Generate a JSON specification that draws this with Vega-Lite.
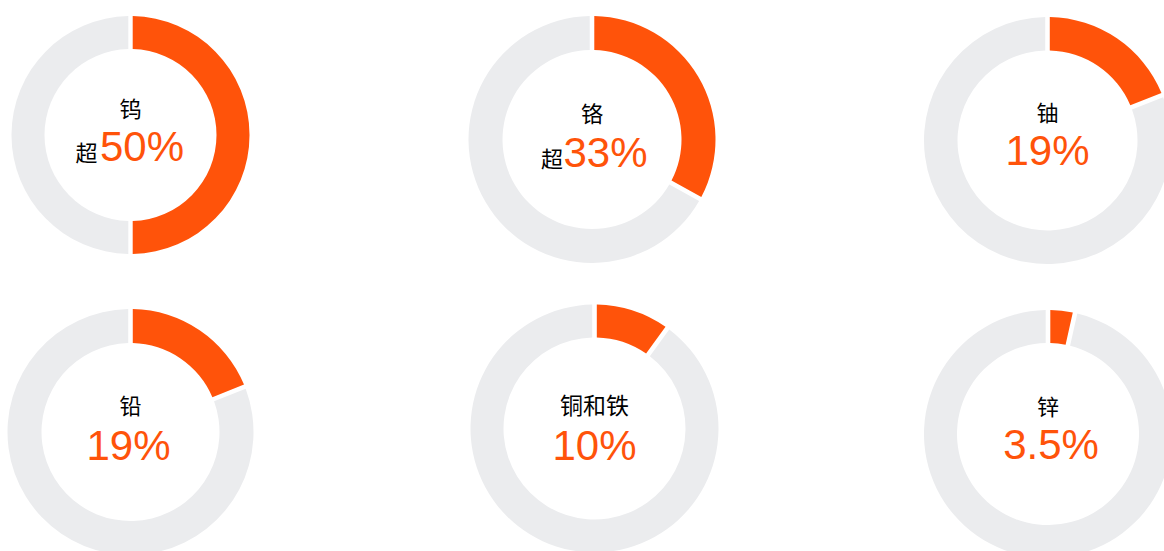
{
  "$schema": "https://vega.github.io/schema/vega-lite/v6.json",
  "padding": 0,
  "background": "#ffffff",
  "config": {"view": {"stroke": null}},
  "data": {"values": [
    {"metal": "钨", "part": "share", "value": 50, "display": "50%", "prefix": "超"},
    {"metal": "钨", "part": "rest", "value": 50},
    {"metal": "铬", "part": "share", "value": 33, "display": "33%", "prefix": "超"},
    {"metal": "铬", "part": "rest", "value": 67},
    {"metal": "铀", "part": "share", "value": 19, "display": "19%"},
    {"metal": "铀", "part": "rest", "value": 81},
    {"metal": "铅", "part": "share", "value": 19, "display": "19%"},
    {"metal": "铅", "part": "rest", "value": 81},
    {"metal": "铜和铁", "part": "share", "value": 10, "display": "10%"},
    {"metal": "铜和铁", "part": "rest", "value": 90},
    {"metal": "锌", "part": "share", "value": 3.5, "display": "3.5%"},
    {"metal": "锌", "part": "rest", "value": 96.5}
  ]},
  "columns": 3,
  "align": "each",
  "bounds": "flush",
  "spacing": {"row": 19, "column": 0},
  "concat": [
    {
      "width": 261, "height": 270,
      "transform": [{"filter": "datum.metal === '钨'"}],
      "layer": [
        {"mark": {"type": "arc", "radius": 119, "innerRadius": 86, "padAngle": 0.03},
         "encoding": {"theta": {"field": "value", "type": "quantitative", "stack": true},
           "color": {"field": "part", "type": "nominal", "scale": {"domain": ["share", "rest"], "range": ["#ff530a", "#ebecee"]}, "legend": null},
           "order": {"field": "part", "sort": "descending"}}},
        {"transform": [{"filter": "datum.part === 'share'"}],
         "mark": {"type": "text", "font": "Noto Sans CJK SC", "fontSize": 22, "color": "#000000", "baseline": "middle", "dy": -25},
         "encoding": {"text": {"field": "metal"}}},
        {"transform": [{"filter": "datum.part === 'share'"}],
         "mark": {"type": "text", "font": "Noto Sans CJK SC", "fontSize": 22, "color": "#000000", "baseline": "alphabetic", "align": "right", "dx": -33, "dy": 26},
         "encoding": {"text": {"field": "prefix"}}},
        {"transform": [{"filter": "datum.part === 'share'"}],
         "mark": {"type": "text", "font": "Liberation Sans", "fontSize": 42, "color": "#ff530a", "baseline": "alphabetic", "align": "left", "dx": -30.5, "dy": 26},
         "encoding": {"text": {"field": "display"}}}
      ]
    },
    {
      "width": 662, "height": 279,
      "transform": [{"filter": "datum.metal === '铬'"}],
      "layer": [
        {"mark": {"type": "arc", "radius": 123.5, "innerRadius": 89.5, "padAngle": 0.03},
         "encoding": {"theta": {"field": "value", "type": "quantitative", "stack": true},
           "color": {"field": "part", "type": "nominal", "scale": {"domain": ["share", "rest"], "range": ["#ff530a", "#ebecee"]}, "legend": null},
           "order": {"field": "part", "sort": "descending"}}},
        {"transform": [{"filter": "datum.part === 'share'"}],
         "mark": {"type": "text", "font": "Noto Sans CJK SC", "fontSize": 22, "color": "#000000", "baseline": "middle", "dy": -24.5},
         "encoding": {"text": {"field": "metal"}}},
        {"transform": [{"filter": "datum.part === 'share'"}],
         "mark": {"type": "text", "font": "Noto Sans CJK SC", "fontSize": 22, "color": "#000000", "baseline": "alphabetic", "align": "right", "dx": -29, "dy": 27.5},
         "encoding": {"text": {"field": "prefix"}}},
        {"transform": [{"filter": "datum.part === 'share'"}],
         "mark": {"type": "text", "font": "Liberation Sans", "fontSize": 42, "color": "#ff530a", "baseline": "alphabetic", "align": "left", "dx": -28.5, "dy": 27.5},
         "encoding": {"text": {"field": "display"}}}
      ]
    },
    {
      "width": 239, "height": 281,
      "transform": [{"filter": "datum.metal === '铀'"}],
      "layer": [
        {"mark": {"type": "arc", "radius": 123.5, "innerRadius": 90, "padAngle": 0.03},
         "encoding": {"theta": {"field": "value", "type": "quantitative", "stack": true},
           "color": {"field": "part", "type": "nominal", "scale": {"domain": ["share", "rest"], "range": ["#ff530a", "#ebecee"]}, "legend": null},
           "order": {"field": "part", "sort": "descending"}}},
        {"transform": [{"filter": "datum.part === 'share'"}],
         "mark": {"type": "text", "font": "Noto Sans CJK SC", "fontSize": 22, "color": "#000000", "baseline": "middle", "dy": -27},
         "encoding": {"text": {"field": "metal"}}},
        {"transform": [{"filter": "datum.part === 'share'"}],
         "mark": {"type": "text", "font": "Liberation Sans", "fontSize": 42, "color": "#ff530a", "baseline": "alphabetic", "align": "center", "dy": 24.5},
         "encoding": {"text": {"field": "display"}}}
      ]
    },
    {
      "width": 261, "height": 264,
      "transform": [{"filter": "datum.metal === '铅'"}],
      "layer": [
        {"mark": {"type": "arc", "radius": 123, "innerRadius": 89, "padAngle": 0.03},
         "encoding": {"theta": {"field": "value", "type": "quantitative", "stack": true},
           "color": {"field": "part", "type": "nominal", "scale": {"domain": ["share", "rest"], "range": ["#ff530a", "#ebecee"]}, "legend": null},
           "order": {"field": "part", "sort": "descending"}}},
        {"transform": [{"filter": "datum.part === 'share'"}],
         "mark": {"type": "text", "font": "Noto Sans CJK SC", "fontSize": 22, "color": "#000000", "baseline": "middle", "dy": -25.5},
         "encoding": {"text": {"field": "metal"}}},
        {"transform": [{"filter": "datum.part === 'share'"}],
         "mark": {"type": "text", "font": "Liberation Sans", "fontSize": 42, "color": "#ff530a", "baseline": "alphabetic", "align": "center", "dx": -2, "dy": 28},
         "encoding": {"text": {"field": "display"}}}
      ]
    },
    {
      "width": 667, "height": 257,
      "transform": [{"filter": "datum.metal === '铜和铁'"}],
      "layer": [
        {"mark": {"type": "arc", "radius": 124, "innerRadius": 91, "padAngle": 0.03},
         "encoding": {"theta": {"field": "value", "type": "quantitative", "stack": true},
           "color": {"field": "part", "type": "nominal", "scale": {"domain": ["share", "rest"], "range": ["#ff530a", "#ebecee"]}, "legend": null},
           "order": {"field": "part", "sort": "descending"}}},
        {"transform": [{"filter": "datum.part === 'share'"}],
         "mark": {"type": "text", "font": "Noto Sans CJK SC", "fontSize": 23, "color": "#000000", "baseline": "middle", "dy": -22},
         "encoding": {"text": {"field": "metal"}}},
        {"transform": [{"filter": "datum.part === 'share'"}],
         "mark": {"type": "text", "font": "Liberation Sans", "fontSize": 42, "color": "#ff530a", "baseline": "alphabetic", "align": "center", "dy": 31},
         "encoding": {"text": {"field": "display"}}}
      ]
    },
    {
      "width": 240, "height": 268,
      "transform": [{"filter": "datum.metal === '锌'"}],
      "layer": [
        {"mark": {"type": "arc", "radius": 124, "innerRadius": 91, "padAngle": 0.03},
         "encoding": {"theta": {"field": "value", "type": "quantitative", "stack": true},
           "color": {"field": "part", "type": "nominal", "scale": {"domain": ["share", "rest"], "range": ["#ff530a", "#ebecee"]}, "legend": null},
           "order": {"field": "part", "sort": "descending"}}},
        {"transform": [{"filter": "datum.part === 'share'"}],
         "mark": {"type": "text", "font": "Noto Sans CJK SC", "fontSize": 22, "color": "#000000", "baseline": "middle", "dy": -26},
         "encoding": {"text": {"field": "metal"}}},
        {"transform": [{"filter": "datum.part === 'share'"}],
         "mark": {"type": "text", "font": "Liberation Sans", "fontSize": 42, "color": "#ff530a", "baseline": "alphabetic", "align": "center", "dx": 3, "dy": 25},
         "encoding": {"text": {"field": "display"}}}
      ]
    }
  ]
}
